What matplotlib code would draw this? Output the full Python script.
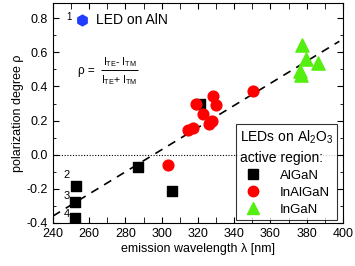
import numpy as np
import matplotlib
matplotlib.use('Agg')
import matplotlib.pyplot as plt
from matplotlib.ticker import MultipleLocator, FormatStrFormatter
from matplotlib.lines import Line2D

plt.rcParams['font.family'] = ['Liberation Sans', 'DejaVu Sans']
plt.rcParams['mathtext.fontset'] = 'custom'
plt.rcParams['mathtext.rm'] = 'Liberation Sans'
plt.rcParams['mathtext.it'] = 'Liberation Sans'

# data
aln_wl, aln_rho = [256], [0.79]
algan_wl = [253, 252.3, 252.3, 287, 305.5, 321]
algan_rho = [-0.186, -0.28, -0.37, -0.075, -0.21, 0.30]
inalgan_wl = [303.6, 318.7, 328.4, 329.9, 322.6, 327.5, 326.2, 317.4, 314.7, 350.2]
inalgan_rho = [-0.063, 0.30, 0.343, 0.294, 0.241, 0.196, 0.182, 0.157, 0.143, 0.372]
ingan_wl = [377.5, 379.4, 386.4, 376.3, 376.8]
ingan_rho = [0.641, 0.559, 0.54, 0.49, 0.47]
fit_wl = [240, 398]
fit_rho = [-0.36, 0.665]
sample_labels = ['2', '3', '4']
sample_label_rho = [-0.12, -0.245, -0.35]

fig = plt.figure(figsize=(3.55, 2.66), dpi=100)
ax = fig.add_axes([0.149, 0.162, 0.817, 0.827])

ax.axhline(0, color='black', lw=0.8, ls=(0, (1, 1.5)), zorder=1)
ax.plot(fit_wl, fit_rho, color='black', lw=1.2, ls=(0, (5, 4)), zorder=2)

ax.scatter(algan_wl, algan_rho, marker='s', s=45, color='black', zorder=3)
ax.scatter(inalgan_wl, inalgan_rho, marker='o', s=60, color='#ff0000', zorder=4)
ax.scatter(ingan_wl, ingan_rho, marker='^', s=90, color='#55ee11', zorder=4)
ax.scatter(aln_wl, aln_rho, marker='h', s=60, color='#1f3cff', zorder=4)

ax.text(249, 0.81, '1', fontsize=7, ha='center', va='center')
ax.text(264, 0.79, 'LED on AlN', fontsize=10, va='center')
for lab, y in zip(sample_labels, sample_label_rho):
    ax.text(247.5, y, lab, fontsize=8, ha='center', va='center')

# polarization formula
ax.text(258.2, 0.49, 'ρ =', fontsize=8.5, ha='center', va='center')
ax.text(276.7, 0.545, r'I$_{\rm TE}$- I$_{\rm TM}$', fontsize=7.5, ha='center', va='center')
ax.text(276.7, 0.44, r'I$_{\rm TE}$+ I$_{\rm TM}$', fontsize=7.5, ha='center', va='center')
ax.hlines(0.494, 266.3, 287.1, color='black', lw=0.7)

ax.set_xlim(240, 400)
ax.set_ylim(-0.4, 0.89)
ax.xaxis.set_major_locator(MultipleLocator(20))
ax.xaxis.set_minor_locator(MultipleLocator(10))
ax.yaxis.set_major_locator(MultipleLocator(0.2))
ax.yaxis.set_minor_locator(MultipleLocator(0.1))
ax.yaxis.set_major_formatter(FormatStrFormatter('%.1f'))
ax.tick_params(which='both', direction='in', top=True, right=True, labelsize=9)
ax.tick_params(which='major', length=4)
ax.tick_params(which='minor', length=2.5)
ax.tick_params(axis='x', which='minor', length=4)
ax.set_xlabel('emission wavelength λ [nm]', fontsize=9, labelpad=2)
ax.set_ylabel('polarization degree ρ', fontsize=9, labelpad=2)

handles = [
    Line2D([], [], ls='none', marker='s', ms=6.5, color='black'),
    Line2D([], [], ls='none', marker='o', ms=7.5, color='#ff0000'),
    Line2D([], [], ls='none', marker='^', ms=8.5, color='#55ee11'),
]
leg = ax.legend(handles, ['AlGaN', 'InAlGaN', 'InGaN'],
                title='LEDs on Al$_2$O$_3$\nactive region:', loc='lower right',
                bbox_to_anchor=(0.98, 0.015), fontsize=9.5, title_fontsize=10,
                frameon=True, fancybox=False, edgecolor='black',
                handletextpad=1.0, borderaxespad=0.0, labelspacing=0.35,
                borderpad=0.3, handlelength=2.0)
leg._legend_box.align = 'left'
leg.get_title().set_linespacing(1.5)
leg.get_frame().set_linewidth(0.8)
leg.set_zorder(5)

fig.savefig('out.png', dpi=100)
